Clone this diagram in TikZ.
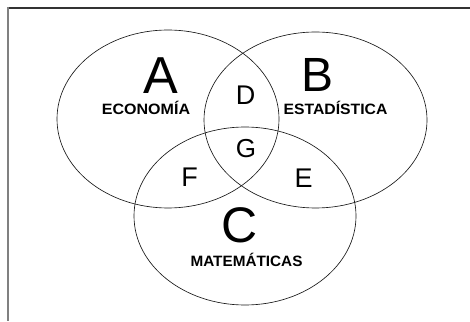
\documentclass[tikz,border=0pt]{standalone}
\usepackage{fontspec}
\setmainfont{Liberation Sans}
\begin{document}
\begin{tikzpicture}[x=1pt,y=1pt,
  setline/.style={draw=black!90,line width=0.65pt},
  bigletter/.style={inner sep=0pt,anchor=base,text depth=0pt,font=\fontsize{50}{50}\selectfont},
  smallletter/.style={inner sep=0pt,anchor=base,text depth=0pt,font=\fontsize{27}{27}\selectfont},
  setname/.style={inner sep=0pt,anchor=base,text depth=0pt,font=\fontsize{15}{15}\selectfont\bfseries}]
\useasboundingbox (0,0) rectangle (470,321);
\fill[white] (0,0) rectangle (470,321);
% frame
\draw[black!80,line width=1.5pt] (7.5,313) -- (470,313);
\draw[black!50,line width=2pt] (8,313.7) -- (8,0);
% sets
\draw[setline] (168,202) ellipse [x radius=111, y radius=89];
\draw[setline] (315.5,201) ellipse [x radius=111.5, y radius=88];
\draw[setline] (245,105) ellipse [x radius=111, y radius=89];
% labels
\node[bigletter,font=\fontsize{52}{52}\selectfont] (A) at (161,227) {A};
\node[bigletter,font=\fontsize{48}{48}\selectfont] (B) at (318,229) {B};
\node[bigletter] (C) at (239.5,78) {C};
\node[setname] (econ) at (146,206) {\scalebox{1.07}[1]{ECONOMÍA}};
\node[setname] (esta) at (335.5,206) {\scalebox{1.05}[1]{ESTADÍSTICA}};
\node[setname] (mate) at (246.5,55) {\scalebox{1.02}[1]{MATEMÁTICAS}};
\node[smallletter] (D) at (245.5,216) {D};
\node[smallletter,font=\fontsize{26}{26}\selectfont] (G) at (246,163) {G};
\node[smallletter] (F) at (189.5,134) {F};
\node[smallletter] (E) at (303.5,133) {E};
\end{tikzpicture}
\end{document}
